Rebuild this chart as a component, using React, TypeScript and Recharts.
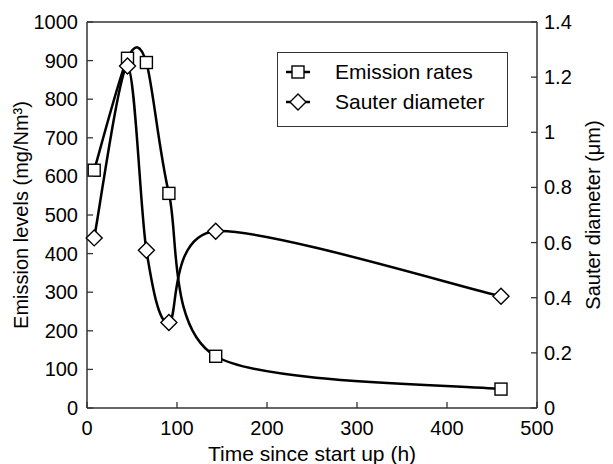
import { LineChart, Line, XAxis, YAxis, Legend, ReferenceLine } from 'recharts';

// time since start up (h)
const times = [8, 45, 66, 91, 143, 460];
// emission levels (mg/Nm3), left axis
const emission = [616, 906, 895, 556, 134, 49];
// sauter diameter (um), right axis
const sauter = [0.617, 1.24, 0.572, 0.31, 0.641, 0.405];

const xTicks = [0, 100, 200, 300, 400, 500];
const leftTicks = [0, 100, 200, 300, 400, 500, 600, 700, 800, 900, 1000];
const rightTicks = [0, 0.2, 0.4, 0.6, 0.8, 1, 1.2, 1.4];

const data = times.map((t, i) => ({ t, emission: emission[i], sauter: sauter[i] }));

const FONT = '"Liberation Sans", Arial, sans-serif';
const AXIS = '#333';

// excel-like smoothed line (catmull-rom style bezier)
function smoothCurve(context: any) {
    let pts: number[][] = [];
    const k = 7;
    return {
        areaStart() {},
        areaEnd() {},
        lineStart() { pts = []; },
        point(x: number, y: number) { pts.push([x, y]); },
        lineEnd() {
            if (!pts.length) return;
            context.moveTo(pts[0][0], pts[0][1]);
            for (let i = 0; i < pts.length - 1; i++) {
                const p0 = pts[i - 1] || pts[i];
                const p1 = pts[i];
                const p2 = pts[i + 1];
                const p3 = pts[i + 2] || pts[i + 1];
                context.bezierCurveTo(
                    p1[0] + (p2[0] - p0[0]) / k, p1[1] + (p2[1] - p0[1]) / k,
                    p2[0] - (p3[0] - p1[0]) / k, p2[1] - (p3[1] - p1[1]) / k,
                    p2[0], p2[1]
                );
            }
        },
    };
}

function Square({ cx, cy, size = 6 }: any) {
    return <rect x={cx - size} y={cy - size} width={size * 2} height={size * 2} fill="#fff" stroke="#000" strokeWidth={1.4} />;
}

function Diamond({ cx, cy, size = 8 }: any) {
    return <path d={`M${cx},${cy - size}L${cx + size},${cy}L${cx},${cy + size}L${cx - size},${cy}Z`} fill="#fff" stroke="#000" strokeWidth={1.4} />;
}

const TM = 8; // tick margin

function bottomTick(props: any) {
    const { x, y, payload } = props;
    const axisY = y - TM;
    return (
        <g>
            <line x1={x} x2={x} y1={axisY} y2={axisY - 6} stroke={AXIS} strokeWidth={1.3} />
            <text x={x} y={y + 5} textAnchor="middle" dominantBaseline="hanging" fontSize={20} fontFamily={FONT} fill="#000">{payload.value}</text>
        </g>
    );
}

function leftTick(props: any) {
    const { x, y, payload } = props;
    const axisX = x + TM;
    return (
        <g>
            <line x1={axisX} x2={axisX + 6} y1={y} y2={y} stroke={AXIS} strokeWidth={1.3} />
            <text x={x - 1} y={y} textAnchor="end" dominantBaseline="central" fontSize={20} fontFamily={FONT} fill="#000">{payload.value}</text>
        </g>
    );
}

function rightTick(props: any) {
    const { x, y, payload } = props;
    const axisX = x - TM;
    return (
        <g>
            <line x1={axisX} x2={axisX - 6} y1={y} y2={y} stroke={AXIS} strokeWidth={1.3} />
            <text x={x - 1} y={y} textAnchor="start" dominantBaseline="central" fontSize={20} fontFamily={FONT} fill="#000">{String(Number(payload.value.toFixed(1)))}</text>
        </g>
    );
}

function renderLegend() {
    const rows = [
        { name: 'Emission rates', icon: <Square cx={15} cy={11} /> },
        { name: 'Sauter diameter', icon: <Diamond cx={15} cy={11} /> },
    ];
    return (
        <div style={{ border: `1.5px solid ${AXIS}`, background: '#fff', width: 229, height: 69, boxSizing: 'content-box', paddingTop: 4, fontFamily: FONT }}>
            {rows.map((r) => (
                <div key={r.name} style={{ display: 'flex', alignItems: 'center', height: 30 }}>
                    <svg width={30} height={22} style={{ marginLeft: 5 }}>
                        <line x1={3} x2={27} y1={11} y2={11} stroke="#000" strokeWidth={2.5} />
                        {r.icon}
                    </svg>
                    <span style={{ marginLeft: 22, fontSize: 21, color: '#000' }}>{r.name}</span>
                </div>
            ))}
        </div>
    );
}

function leftLabel(props: any) {
    const vb = props.viewBox;
    const cx = vb.x + 21;
    const cy = vb.y + vb.height / 2;
    return (
        <text x={cx} y={cy} transform={`rotate(-90 ${cx} ${cy})`} textAnchor="middle" dominantBaseline="central" fontSize={20} fontFamily={FONT} fill="#000">
            Emission levels (mg/Nm³)
        </text>
    );
}

function rightLabel(props: any) {
    const vb = props.viewBox;
    const cx = vb.x + 56;
    const cy = vb.y + vb.height / 2;
    return (
        <text x={cx} y={cy} transform={`rotate(-90 ${cx} ${cy})`} textAnchor="middle" dominantBaseline="central" fontSize={20} fontFamily={FONT} fill="#000">
            Sauter diameter (μm)
        </text>
    );
}

function bottomLabel(props: any) {
    const vb = props.viewBox;
    const cx = vb.x + vb.width / 2;
    const cy = vb.y + 45;
    return (
        <text x={cx} y={cy} textAnchor="middle" dominantBaseline="central" fontSize={21} fontFamily={FONT} fill="#000">
            Time since start up (h)
        </text>
    );
}

export default function App() {
    return (
        <div style={{ position: 'absolute', left: 0, top: 0, background: '#fff' }}>
            <LineChart width={613} height={464} data={data} margin={{ top: 22, right: 0, left: 0, bottom: 0 }}>
                <XAxis
                    dataKey="t"
                    type="number"
                    domain={[0, 500]}
                    ticks={xTicks}
                    height={56}
                    tickSize={0}
                    tickMargin={TM}
                    tick={bottomTick}
                    axisLine={{ stroke: AXIS, strokeWidth: 1.5 }}
                    label={{ content: bottomLabel }}
                />
                <YAxis
                    yAxisId="left"
                    domain={[0, 1000]}
                    ticks={leftTicks}
                    width={87}
                    tickSize={0}
                    tickMargin={TM}
                    tick={leftTick}
                    axisLine={{ stroke: AXIS, strokeWidth: 1.5 }}
                    label={{ content: leftLabel }}
                />
                <YAxis
                    yAxisId="right"
                    orientation="right"
                    domain={[0, 1.4]}
                    ticks={rightTicks}
                    width={76}
                    tickSize={0}
                    tickMargin={TM}
                    tick={rightTick}
                    axisLine={{ stroke: AXIS, strokeWidth: 1.5 }}
                    label={{ content: rightLabel }}
                />
                <ReferenceLine yAxisId="left" y={1000} stroke={AXIS} strokeWidth={1.5} />
                <Legend
                    layout="horizontal"
                    verticalAlign="middle"
                    align="center"
                    content={renderLegend}
                    wrapperStyle={{ left: 277, top: 52, width: 232 }}
                />
                <Line
                    yAxisId="left"
                    dataKey="emission"
                    name="Emission rates"
                    type={smoothCurve as any}
                    stroke="#000"
                    strokeWidth={2.5}
                    dot={(p: any) => <Square key={`sq-${p.index}`} cx={p.cx} cy={p.cy} />}
                    isAnimationActive={false}
                />
                <Line
                    yAxisId="right"
                    dataKey="sauter"
                    name="Sauter diameter"
                    type={smoothCurve as any}
                    stroke="#000"
                    strokeWidth={2.5}
                    dot={(p: any) => <Diamond key={`dm-${p.index}`} cx={p.cx} cy={p.cy} />}
                    isAnimationActive={false}
                />
            </LineChart>
        </div>
    );
}
